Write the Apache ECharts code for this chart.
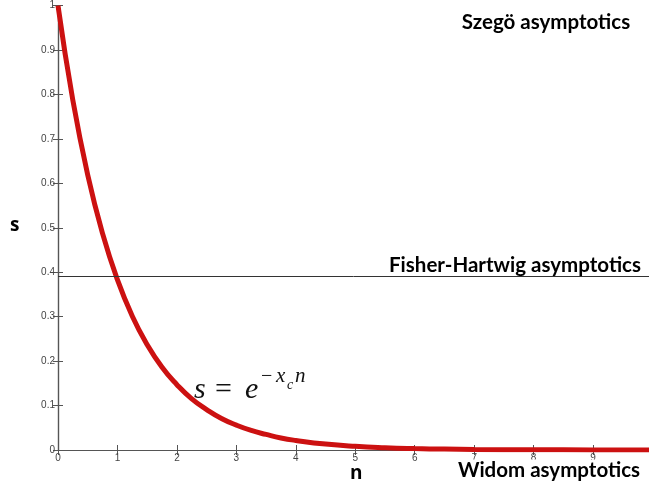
<!DOCTYPE html>
<html><head><meta charset="utf-8">
<script src="https://cdn.jsdelivr.net/npm/echarts@6/dist/echarts.min.js"></script>
<style>html,body{margin:0;padding:0;background:#fff}#c{width:649px;height:486px}</style>
</head><body><div id="c"></div>
<script>
// values
var nValues = [0, 0.25, 0.5, 0.75, 1, 1.25, 1.5, 1.75, 2, 2.25, 2.5, 2.75, 3, 3.25, 3.5, 3.75, 4, 4.5, 5, 5.5, 6, 6.5, 7, 8, 9, 9.94];
var sValues = [1, 0.787, 0.619, 0.487, 0.383, 0.301, 0.237, 0.186, 0.147, 0.115, 0.091, 0.071, 0.056, 0.044, 0.035, 0.027, 0.0215, 0.0133, 0.0082, 0.0051, 0.0032, 0.0020, 0.0012, 0.0005, 0.0002, 0.0001];
var fisherHartwigLevel = 0.389;
var xMax = 9.94;

var curve = nValues.map(function (n, i) { return [n, sValues[i]]; });
var chart = echarts.init(document.getElementById('c'), null, {renderer: 'canvas'});
var axisCol = '#555';
var lbl = {color: '#444', fontSize: 10, fontFamily: 'Liberation Sans, Arial, sans-serif'};
function intLabel(v) { return Math.abs(v - Math.round(v)) < 1e-6 ? String(Math.round(v)) : ''; }
function decLabel(v) { var r = Math.round(v * 10) / 10; return Math.abs(v - r) < 1e-6 ? String(r) : ''; }
chart.setOption({
  animation: false,
  backgroundColor: '#fff',
  grid: {left: 58, right: 0, top: 5.7, bottom: 36},
  xAxis: [
    {type: 'value', min: 0, max: xMax, interval: 1, position: 'bottom',
     axisLine: {lineStyle: {color: axisCol, width: 1.2}},
     axisTick: {inside: true, length: 5, lineStyle: {color: axisCol}},
     axisLabel: Object.assign({margin: 3, formatter: intLabel, showMaxLabel: false}, lbl),
     splitLine: {show: false}},
    {type: 'value', min: 0, max: xMax, interval: 1, position: 'top',
     axisLine: {lineStyle: {color: axisCol, width: 1.2}},
     axisTick: {inside: true, length: 5, lineStyle: {color: axisCol}},
     axisLabel: {show: false}, splitLine: {show: false}}
  ],
  yAxis: [
    {type: 'value', min: 0, max: 1, interval: 0.1, position: 'left',
     axisLine: {show: true, lineStyle: {color: axisCol, width: 1.2}},
     axisTick: {show: true, inside: true, length: 5, lineStyle: {color: axisCol}},
     axisLabel: Object.assign({margin: 3, formatter: decLabel}, lbl),
     splitLine: {show: false}},
    {type: 'value', min: 0, max: 1, interval: 0.1, position: 'right',
     axisLine: {show: true, lineStyle: {color: axisCol, width: 1.2}},
     axisTick: {show: true, inside: true, length: 5, lineStyle: {color: axisCol}},
     axisLabel: {show: false}, splitLine: {show: false}}
  ],
  series: [
    {type: 'line', data: curve, smooth: 0.5, showSymbol: false, symbol: 'none',
     lineStyle: {color: '#cc1111', width: 5}, z: 3,
     markLine: {silent: true, symbol: 'none', label: {show: false},
       lineStyle: {color: '#333', width: 1, type: 'solid'},
       data: [{yAxis: fisherHartwigLevel}]}}
  ],
  graphic: [
    {type: 'text', left: 10, top: 216, style: {text: 's', font: 'bold 19px "Open Sans", sans-serif', fill: '#000'}},
    {type: 'text', left: 350, top: 464, style: {text: 'n', font: 'bold 19px "Open Sans", sans-serif', fill: '#000'}},
    {type: 'text', z: 10, style: {x: 546, y: 22, text: 'Szegö asymptotics', align: 'center', verticalAlign: 'middle', font: 'bold 20.5px Lato, sans-serif', fill: '#000', backgroundColor: '#fff'}},
    {type: 'text', z: 10, style: {x: 515, y: 265, text: 'Fisher-Hartwig asymptotics', align: 'center', verticalAlign: 'middle', font: 'bold 20.5px Lato, sans-serif', fill: '#000', backgroundColor: '#fff'}},
    {type: 'text', z: 10, style: {x: 549, y: 470, text: 'Widom asymptotics', align: 'center', verticalAlign: 'middle', font: 'bold 20.5px Lato, sans-serif', fill: '#000', backgroundColor: '#fff'}},
    {type: 'text', z: 10, style: {x: 194, y: 405, text: 's', verticalAlign: 'bottom', font: 'italic 30px "Liberation Serif", serif', fill: '#111'}},
    {type: 'text', z: 10, style: {x: 215, y: 405, text: '=', verticalAlign: 'bottom', font: '30px "Liberation Serif", serif', fill: '#111'}},
    {type: 'text', z: 10, style: {x: 245, y: 405, text: 'e', verticalAlign: 'bottom', font: 'italic 30px "Liberation Serif", serif', fill: '#111'}},
    {type: 'text', z: 10, style: {x: 261, y: 387, text: '−', verticalAlign: 'bottom', font: '20px "Liberation Serif", serif', fill: '#111'}},
    {type: 'text', z: 10, style: {x: 276, y: 387, text: 'x', verticalAlign: 'bottom', font: 'italic 21px "Liberation Serif", serif', fill: '#111'}},
    {type: 'text', z: 10, style: {x: 287, y: 392, text: 'c', verticalAlign: 'bottom', font: 'italic 14px "Liberation Serif", serif', fill: '#111'}},
    {type: 'text', z: 10, style: {x: 295, y: 387, text: 'n', verticalAlign: 'bottom', font: 'italic 21px "Liberation Serif", serif', fill: '#111'}}
  ]
});
</script></body></html>
